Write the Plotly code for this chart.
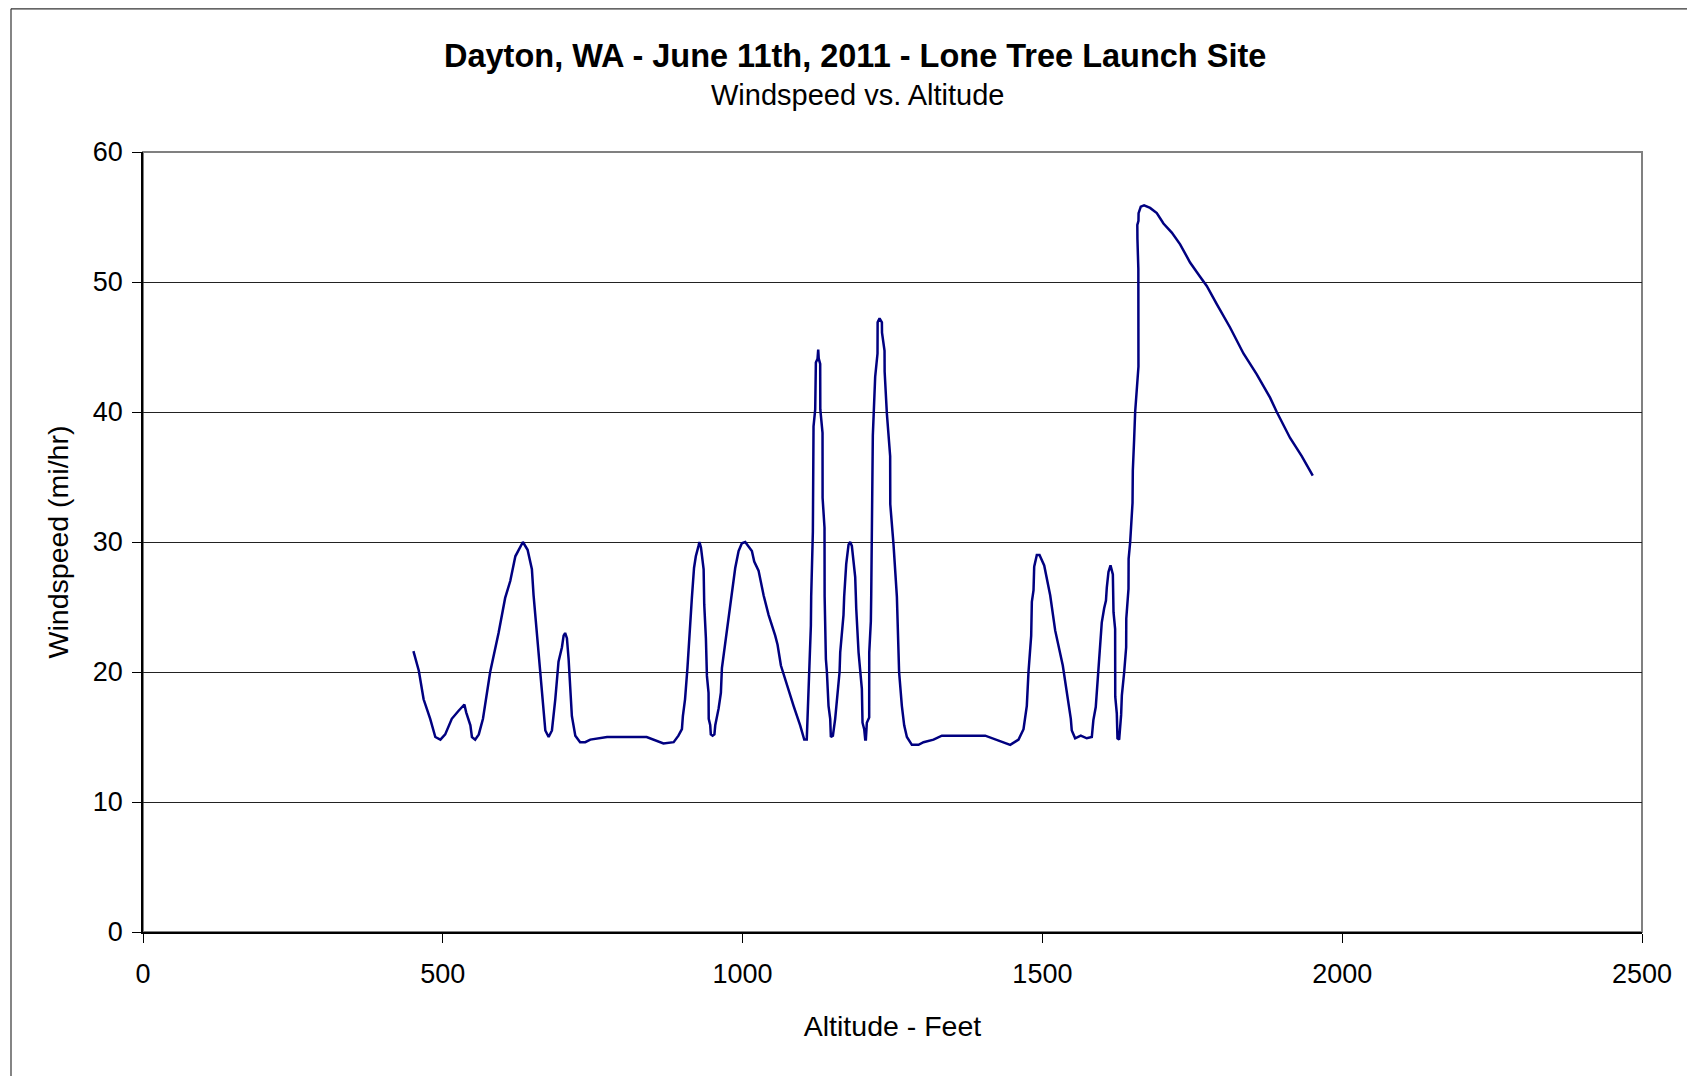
import plotly.graph_objects as go

# ---- data ----
altitude_ft = [
    451, 460, 468, 479, 487.5, 496, 504, 515, 526, 536, 539, 546, 548.6, 554, 560, 567,
    579, 593, 604, 612.5, 621, 633.6, 641.4, 648.6, 651.4, 657, 662.5, 664, 668, 671,
    676.5, 682, 687.6, 693, 698.7, 701.5, 704, 707, 709.8, 712.6, 715.3, 721, 729, 737.5,
    746, 774, 840, 868, 885, 893, 898.8, 900.4, 904, 908, 912.6, 915.4, 919, 922, 926.5,
    928, 930.5, 933.2, 935, 936, 938.8, 940.5, 943.2, 943.5, 946, 947, 950, 953, 954.4,
    960, 963.8, 965.5, 973.8, 982, 987.7, 993.3, 998.8, 1004.4, 1010, 1015.5, 1019.4,
    1026.6, 1035, 1043.3, 1054.4, 1058.3, 1063.9, 1073.8, 1085, 1096, 1102.8, 1107,
    1108.3, 1111, 1113.9, 1114.4, 1117.2, 1118.3, 1121.1, 1122.2, 1125, 1126.1, 1127,
    1129.4, 1129.6, 1133.3, 1133.4, 1136.6, 1136.8, 1138.9, 1140.6, 1143.3, 1146.1,
    1147.2, 1150.6, 1154.4, 1158.3, 1161.7, 1162.8, 1168.3, 1169.4, 1172.8, 1176.7,
    1179.4, 1182.2, 1185, 1187.8, 1188.9, 1189.5, 1193.4, 1196.1, 1198.9, 1200, 1202.8,
    1204.5, 1205.6, 1207.2, 1211.1, 1211.2, 1213.9, 1214.5, 1215.6, 1217.2, 1221.1,
    1225, 1225.2, 1228.4, 1232.3, 1232.5, 1236.7, 1236.9, 1240.6, 1246.1, 1246.3,
    1251.7, 1257.3, 1261, 1265.6, 1269.5, 1274, 1282.3, 1293.4, 1301.7, 1318.4, 1332.3,
    1363, 1404.6, 1446.3, 1460.2, 1468.5, 1471.3, 1474, 1476.8, 1481.3, 1482.4, 1485.2,
    1486.3, 1490.7, 1495.2, 1503, 1513, 1521.3, 1534, 1540.8, 1547.4, 1549, 1554.6,
    1564, 1574, 1582.4, 1585, 1589, 1593.6, 1599, 1603, 1606, 1607.4, 1610.2, 1613.6,
    1617.5, 1618.6, 1621.3, 1621.5, 1624.1, 1625.2, 1628, 1631.3, 1632.5, 1636.4,
    1639.7, 1639.9, 1643.6, 1643.8, 1646.4, 1650.3, 1650.8, 1653, 1654.7, 1660.2,
    1660.5, 1660, 1658.5, 1658.3, 1660.2, 1660.4, 1664.1, 1669.6, 1679.6, 1690.8,
    1701.9, 1715.8, 1729.7, 1746.3, 1763, 1774.1, 1790.8, 1813, 1835.3, 1857.5,
    1879.7, 1890.9, 1913.1, 1932.5, 1950.9,
]
windspeed_mph = [
    21.6, 20.1, 17.9, 16.4, 15.0, 14.8, 15.2, 16.4, 17.0, 17.5, 16.9, 15.9, 15.0, 14.8, 15.2, 16.4,
    20.0, 23.0, 25.7, 27.0, 28.9, 30.0, 29.4, 27.9, 25.9, 23.0, 20.4, 19.2, 17.4, 15.5,
    15.0, 15.5, 17.9, 20.8, 21.9, 22.8, 23.0, 22.6, 21.0, 19.0, 16.6, 15.1, 14.6, 14.6,
    14.8, 15.0, 15.0, 14.5, 14.6, 15.1, 15.6, 16.6, 17.9, 20.3, 24.1, 25.7, 28.0, 28.9, 29.7,
    30.0, 29.6, 28.5, 27.9, 25.2, 22.6, 19.7, 18.4, 16.4, 15.9, 15.2, 15.1, 15.2, 15.9,
    17.2, 18.4, 20.3, 23.1, 25.9, 28.0, 29.3, 29.9, 30.0, 29.6, 29.3, 28.5,
    27.8, 25.9, 24.4, 22.8, 22.1, 20.5, 19.0, 17.4, 15.9, 14.8, 14.8,
    16.4, 20.0, 23.6, 25.8, 30.8, 38.9, 40.2, 43.8, 44.1, 44.8, 44.1,
    43.7, 40.2, 38.4, 33.4, 31.1, 25.8, 21.0, 20.0, 17.4, 16.4,
    15.0, 15.1, 16.4, 18.4, 20.0, 21.5, 24.4, 25.8, 28.3, 29.8,
    30.0, 29.7, 28.3, 27.3, 25.8, 24.9, 21.5, 20.0, 18.7, 16.1, 15.6,
    14.8, 14.8, 16.1, 16.5, 21.5, 23.9, 25.8, 32.1, 38.2, 42.7,
    44.5, 46.9, 47.2, 46.9, 46.1, 44.7, 43.1, 39.9, 36.6, 32.9,
    29.8, 25.8, 20.0, 17.4, 15.9, 15.0, 14.4, 14.4, 14.6, 14.8, 15.1,
    15.1, 15.1, 14.4, 14.8, 15.6, 16.4, 17.4, 20.0, 22.8, 25.4, 26.3,
    28.1, 29.0, 29.0, 28.2, 25.9, 23.2, 20.5, 18.5, 16.4, 15.5, 14.9,
    15.1, 14.9, 15.0, 16.3, 17.3, 20.0, 23.8, 24.9, 25.5, 26.5, 27.7, 28.2,
    27.5, 24.6, 23.3, 18.1, 16.8, 14.9, 14.8, 16.7, 18.2, 20.0,
    21.9, 24.1, 26.4, 28.7, 30.0, 33.0, 35.5, 37.9, 40.0, 43.5,
    47.0, 51.0, 53.3, 54.4, 54.7, 55.3, 55.8, 55.9, 55.7, 55.3,
    54.5, 53.8, 52.9, 51.5, 50.4, 49.7, 48.3, 46.5, 44.5, 42.9,
    41.1, 40.0, 38.0, 36.6, 35.1,
]

x_ticks = [0, 500, 1000, 1500, 2000, 2500]
y_ticks = [0, 10, 20, 30, 40, 50, 60]

title_text = "Dayton, WA - June 11th, 2011 - Lone Tree Launch Site"
subtitle_text = "Windspeed vs. Altitude"
x_title = "Altitude - Feet"
y_title = "Windspeed (mi/hr)"

FONT = "Arial, Liberation Sans, Helvetica, sans-serif"

# plot area in figure pixels (the page adds an 8px body margin)
L, R, T, B = 135, 1634, 144, 924
W, H = 1695, 1076

fig = go.Figure()
fig.add_trace(go.Scatter(
    x=altitude_ft, y=windspeed_mph, mode="lines",
    line=dict(color="#000080", width=2.5),
    showlegend=False, hoverinfo="x+y",
))

fig.update_layout(
    width=W, height=H,
    template="none",
    paper_bgcolor="white", plot_bgcolor="white",
    margin=dict(l=L, r=W - R, t=T, b=H - B, pad=0),
    font=dict(family=FONT, size=27, color="black"),
    showlegend=False,
)

fig.update_xaxes(
    range=[0, 2500], tickvals=x_ticks, ticktext=[str(v) for v in x_ticks],
    showgrid=False, zeroline=False,
    showline=True, linecolor="black", linewidth=1.5,
    ticks="outside", ticklen=9, tickwidth=1, tickcolor="black",
    tickfont=dict(family=FONT, size=27, color="black"),
    ticklabelstandoff=8,
    title=dict(text=x_title, font=dict(family=FONT, size=28.5, color="black"), standoff=28),
    automargin=False,
)
fig.update_yaxes(
    range=[0, 60], tickvals=y_ticks, ticktext=[str(v) for v in y_ticks],
    showgrid=True, gridcolor="#222222", gridwidth=1, zeroline=False,
    showline=True, linecolor="black", linewidth=1.5,
    ticks="outside", ticklen=9, tickwidth=1, tickcolor="black",
    tickfont=dict(family=FONT, size=27, color="black"),
    ticklabelstandoff=4,
    title=dict(text=y_title, font=dict(family=FONT, size=28.5, color="black"), standoff=16),
    automargin=False,
)

# plot-area frame (gray; top and right edges visible)
fig.add_shape(type="rect", xref="paper", yref="paper", x0=0, y0=0, x1=1, y1=1,
              line=dict(color="#808080", width=2), layer="below")

# outer chart border (only left and top edges visible in the picture)
pw, ph = R - L, B - T
bx = (3 - L) / pw
by = (B - 0.8) / ph
fig.add_shape(type="line", xref="paper", yref="paper", x0=bx, y0=by, x1=1.2, y1=by,
              line=dict(color="#333333", width=1.2))
fig.add_shape(type="line", xref="paper", yref="paper", x0=bx, y0=by, x1=bx, y1=-0.3,
              line=dict(color="#333333", width=1.2))

fig.add_annotation(text=f"<b>{title_text}</b>", xref="paper", yref="paper",
                   x=(847 - L) / pw, y=(B - 48) / ph, xanchor="center", yanchor="middle",
                   showarrow=False, font=dict(family=FONT, size=32.5, color="black"))
fig.add_annotation(text=subtitle_text, xref="paper", yref="paper",
                   x=(849 - L) / pw, y=(B - 87) / ph, xanchor="center", yanchor="middle",
                   showarrow=False, font=dict(family=FONT, size=29, color="black"))

fig.write_html("out.html")
